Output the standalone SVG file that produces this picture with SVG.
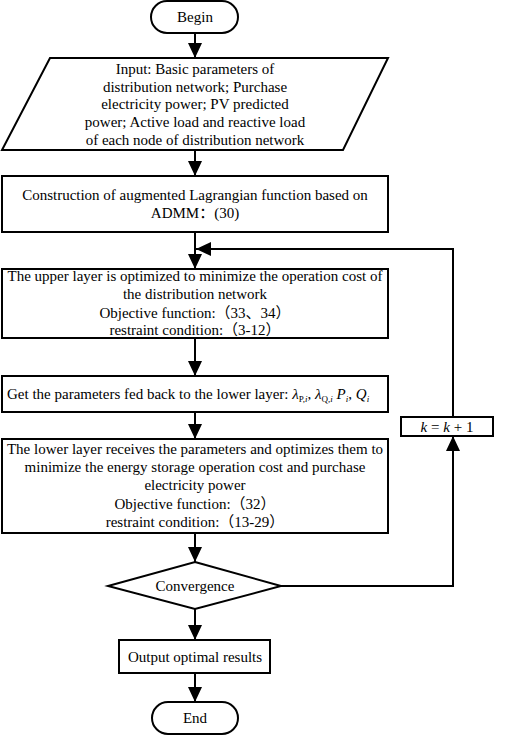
<svg xmlns="http://www.w3.org/2000/svg" width="505" height="736" viewBox="0 0 505 736">
<style>
.s{fill:#fff;stroke:#000;stroke-width:2}
.t{font-family:"Liberation Serif","Noto Sans CJK SC",serif;font-size:15px;fill:#000;text-anchor:middle}
.c{fill:none;stroke:#000;stroke-width:2}
.m{font-style:italic}
</style>
<defs>
<marker id="ah" markerUnits="userSpaceOnUse" markerWidth="16" markerHeight="16" refX="15" refY="7" orient="auto">
<path d="M0,0 L15,7 L0,14 Z" fill="#000"/>
</marker>
</defs>
<g id="connectors">
<line class="c" x1="195" y1="33" x2="195" y2="58" marker-end="url(#ah)"/>
<line class="c" x1="195" y1="150" x2="195" y2="176" marker-end="url(#ah)"/>
<line class="c" x1="195" y1="232" x2="195" y2="269" marker-end="url(#ah)"/>
<line class="c" x1="195" y1="338" x2="195" y2="376" marker-end="url(#ah)"/>
<line class="c" x1="195" y1="412" x2="195" y2="439" marker-end="url(#ah)"/>
<line class="c" x1="195" y1="533" x2="195" y2="562" marker-end="url(#ah)"/>
<line class="c" x1="195" y1="609" x2="195" y2="640" marker-end="url(#ah)"/>
<line class="c" x1="195" y1="673" x2="195" y2="702" marker-end="url(#ah)"/>
<polyline class="c" points="281,586 453,586 453,436" marker-end="url(#ah)"/>
<polyline class="c" points="453,417 453,249 196,249" marker-end="url(#ah)"/>
</g>
<g id="begin">
<rect class="s" x="151" y="1" width="87" height="32" rx="16" ry="16"/>
<text class="t" x="195" y="22">Begin</text>
</g>
<g id="input">
<polygon class="s" points="50,58 388,58 343,150 2,150"/>
<text class="t" x="195" y="74">Input: Basic parameters of</text>
<text class="t" x="195" y="92">distribution network; Purchase</text>
<text class="t" x="195" y="109">electricity power; PV predicted</text>
<text class="t" x="195" y="127">power; Active load and reactive load</text>
<text class="t" x="195" y="145">of each node of distribution network</text>
</g>
<g id="construction">
<rect class="s" x="2" y="176" width="386" height="56"/>
<text class="t" x="195" y="200">Construction of augmented Lagrangian function based on</text>
<text class="t" x="195" y="218">ADMM：(30)</text>
</g>
<g id="upper">
<rect class="s" x="2" y="269" width="386" height="69"/>
<text class="t" x="195" y="281">The upper layer is optimized to minimize the operation cost of</text>
<text class="t" x="195" y="299">the distribution network</text>
<text class="t" x="195" y="318">Objective function:（33、34）</text>
<text class="t" x="195" y="335">restraint condition:（3-12）</text>
</g>
<g id="get">
<rect class="s" x="2" y="376" width="386" height="36"/>
<text class="t" x="7" y="399" style="text-anchor:start">Get the parameters fed back to the lower layer: <tspan class="m">λ</tspan><tspan font-size="9" dy="3">P,<tspan class="m">i</tspan></tspan><tspan dy="-3">, </tspan><tspan class="m">λ</tspan><tspan font-size="9" dy="3">Q,<tspan class="m">i</tspan></tspan><tspan dy="-3">  </tspan><tspan class="m">P</tspan><tspan font-size="9" dy="3" class="m">i</tspan><tspan dy="-3">, </tspan><tspan class="m">Q</tspan><tspan font-size="9" dy="3" class="m">i</tspan></text>
</g>
<g id="lower">
<rect class="s" x="2" y="439" width="386" height="94"/>
<text class="t" x="195" y="454">The lower layer receives the parameters and optimizes them to</text>
<text class="t" x="195" y="472">minimize the energy storage operation cost and purchase</text>
<text class="t" x="195" y="490">electricity power</text>
<text class="t" x="195" y="509">Objective function:（32）</text>
<text class="t" x="195" y="527">restraint condition:（13-29）</text>
</g>
<g id="convergence">
<polygon class="s" points="195,562 281,586 195,609 108,586"/>
<text class="t" x="195" y="591">Convergence</text>
</g>
<g id="output">
<rect class="s" x="119" y="640" width="151" height="33"/>
<text class="t" x="195" y="662">Output optimal results</text>
</g>
<g id="end">
<rect class="s" x="152" y="702" width="86" height="32" rx="16" ry="16"/>
<text class="t" x="195" y="723">End</text>
</g>
<g id="kinc">
<rect class="s" x="401" y="417" width="92" height="19"/>
<text class="t" x="447" y="432"><tspan class="m">k</tspan> = <tspan class="m">k</tspan> + 1</text>
</g>
</svg>
